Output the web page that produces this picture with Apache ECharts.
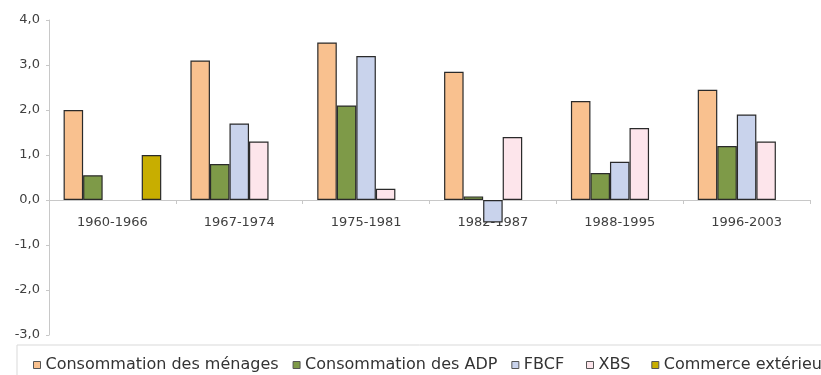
<!DOCTYPE html>
<html>
<head>
<meta charset="utf-8">
<script src="https://cdn.jsdelivr.net/npm/echarts@6/dist/echarts.min.js"></script>
<style>
  html, body { margin: 0; padding: 0; background: #ffffff; }
  #chart { width: 821px; height: 375px; }
</style>
</head>
<body>
<div id="chart"></div>
<script>
// Periods on the horizontal axis
const periods = ['1960-1966', '1967-1974', '1975-1981', '1982-1987', '1988-1995', '1996-2003'];

// Contributions by component (null = not shown for that period)
const menages   = [2.0, 3.1, 3.5, 2.85, 2.2, 2.45];
const adp       = [0.55, 0.8, 2.1, 0.08, 0.6, 1.2];
const fbcf      = [null, 1.7, 3.2, -0.5, 0.85, 1.9];
const xbs       = [null, 1.3, 0.25, 1.4, 1.6, 1.3];
const commerce  = [1.0, null, null, null, null, null];

const seriesNames = ['Consommation des ménages', 'Consommation des ADP', 'FBCF', 'XBS', 'Commerce extérieur'];
const seriesData = [menages, adp, fbcf, xbs, commerce];
const seriesColors = ['#F9C18F', '#7E9A48', '#C9D3EC', '#FDE5EB', '#C8AE00'];

// Value axis bounds and tick step
const yMin = -3, yMax = 4, yStep = 1;

const chart = echarts.init(document.getElementById('chart'), null, { renderer: 'canvas' });

const font = 'DejaVu Sans';

// legend split in two rows-in-one so the last entries keep their spacing
const legendBase = {
  top: 345, width: 1000,
  itemWidth: 7, itemHeight: 7,
  icon: 'rect',
  textStyle: { fontFamily: font, fontSize: 16, color: '#333333' },
  itemStyle: { borderColor: '#555555', borderWidth: 1 }
};

chart.setOption({
  animation: false,
  backgroundColor: '#ffffff',
  grid: { left: 49, right: 11, top: 20, bottom: 40, containLabel: false },
  graphic: [{
    type: 'rect',
    shape: { x: 17, y: 345, width: 900, height: 60 },
    style: { fill: 'none', stroke: '#d9d9d9', lineWidth: 1 },
    silent: true
  }],
  legend: [
    Object.assign({}, legendBase, {
      left: 17, padding: [12, 0, 0, 16], itemGap: 14,
      data: seriesNames.slice(0, 3)
    }),
    Object.assign({}, legendBase, {
      left: 586, padding: [12, 0, 0, 0], itemGap: 21,
      data: seriesNames.slice(3)
    })
  ],
  xAxis: {
    type: 'category',
    data: periods,
    boundaryGap: true,
    axisLine: { onZero: true, lineStyle: { color: '#c8c8c8', width: 1 } },
    axisTick: { show: true, length: 4, lineStyle: { color: '#c8c8c8' } },
    // labels sit just under the zero line
    axisLabel: { fontFamily: font, fontSize: 13, color: '#404040', margin: -119 },
    splitLine: { show: false }
  },
  yAxis: {
    type: 'value',
    min: yMin, max: yMax, interval: yStep,
    axisLine: { show: true, lineStyle: { color: '#c8c8c8', width: 1 } },
    axisTick: { show: true, length: 3, lineStyle: { color: '#c8c8c8' } },
    axisLabel: {
      fontFamily: font, fontSize: 13, color: '#404040', margin: 9,
      formatter: v => v.toFixed(1).replace('.', ',')
    },
    splitLine: { show: false }
  },
  series: seriesNames.map((name, i) => ({
    name: name,
    type: 'bar',
    data: seriesData[i],
    barGap: '0%',
    barCategoryGap: '23%',
    itemStyle: { color: seriesColors[i], borderColor: '#2a2a2a', borderWidth: 1.2 }
  }))
});
</script>
</body>
</html>
